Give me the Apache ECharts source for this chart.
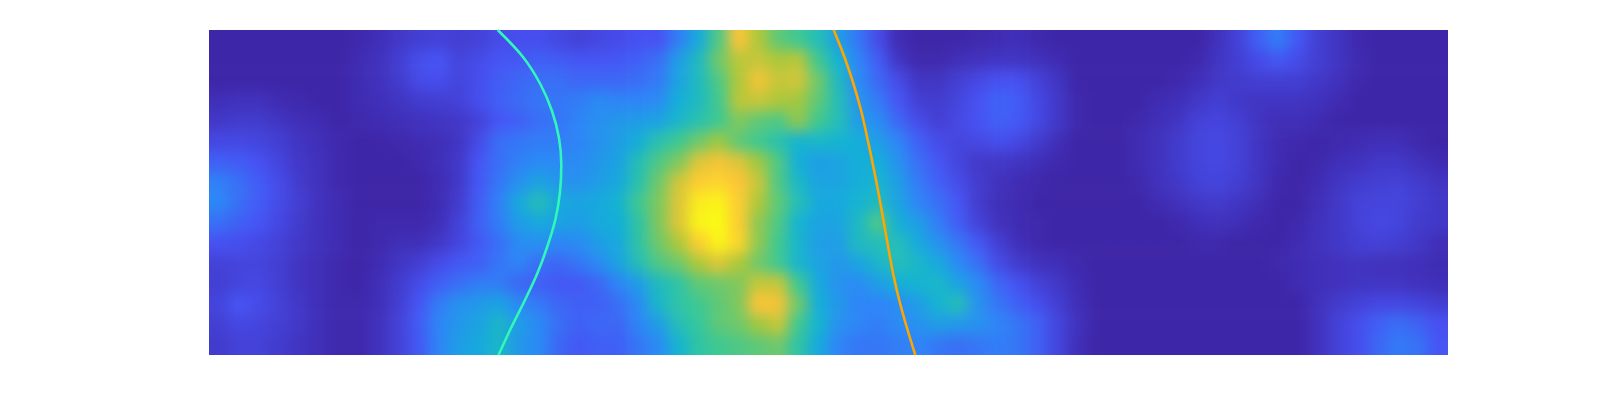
<!DOCTYPE html>
<html><head><meta charset="utf-8">
<style>html,body{margin:0;padding:0;background:#fff}#c{width:1600px;height:400px}</style>
<script src="https://cdn.jsdelivr.net/npm/echarts@6/dist/echarts.min.js"></script>
</head><body><div id="c"></div>
<script>
const row00=[0,0,0,0,0,0,0,1,3,6,8,9,8,9,12,13,13,11,9,11,12,14,14,26,40,60,86,72,62,58,50,36,24,12,2,0,0,0,1,2,3,1,0,0,0,0,0,0,0,0,4,9,18,26,16,8,5,1,0,0,0,0];
const row01=[0,0,0,0,0,0,0,2,4,8,13,15,10,12,15,16,18,17,15,15,16,18,22,36,48,64,74,76,72,74,58,44,28,17,5,1,1,3,4,5,5,4,2,0,0,0,0,0,0,1,5,8,12,16,12,8,5,2,0,0,0,0];
const row02=[0,0,0,0,0,0,0,2,4,7,12,13,10,13,17,20,22,22,20,20,20,22,25,38,48,60,72,84,76,78,64,48,30,20,12,5,5,8,11,14,14,9,5,0,0,0,0,0,1,3,6,7,8,8,8,6,4,1,0,0,0,0];
const row03=[3,4,4,2,1,0,0,2,3,5,7,8,9,13,18,21,24,24,26,30,28,28,30,42,48,58,74,76,72,70,62,50,33,25,15,8,7,10,14,19,17,11,6,1,0,0,0,2,3,6,8,6,5,5,5,4,2,0,0,0,0,0];
const row04=[6,7,7,5,3,2,0,1,2,3,4,5,6,9,15,18,22,24,28,32,34,36,38,46,52,58,66,62,60,68,58,50,36,30,20,12,8,11,14,18,16,11,6,1,0,0,1,3,5,9,10,8,5,3,3,2,0,0,0,0,0,0];
const row05=[11,11,10,8,5,3,1,0,0,1,2,3,5,12,22,24,26,26,28,32,36,42,52,58,64,70,62,58,52,44,46,44,42,36,28,18,12,10,11,13,11,7,3,0,0,0,2,4,7,10,11,9,5,2,1,0,1,2,3,3,1,0];
const row06=[18,17,14,10,6,4,1,0,0,0,1,3,6,15,22,27,30,30,30,34,38,50,60,66,80,84,80,70,60,42,36,38,42,42,32,22,15,10,6,6,5,3,1,0,0,0,2,4,7,10,11,9,5,2,0,1,3,4,6,6,4,2];
const row07=[27,22,17,12,7,4,1,0,0,0,0,2,6,16,24,32,38,34,32,36,40,52,64,78,88,90,86,76,60,46,38,38,42,45,36,25,18,12,7,4,2,1,0,0,0,0,1,4,6,9,10,8,5,1,0,2,5,7,8,9,7,5];
const row08=[29,22,17,12,8,4,2,0,0,0,0,2,7,17,27,40,50,40,38,40,44,58,66,80,96,98,88,72,62,50,40,40,44,48,38,28,22,15,7,3,2,0,0,0,0,0,0,2,4,6,7,5,3,0,0,3,6,9,10,10,8,6];
const row09=[22,18,15,11,7,4,2,0,1,1,1,3,9,18,26,36,40,38,36,40,42,54,66,80,98,100,88,68,60,44,38,38,47,60,42,36,26,17,9,4,2,1,0,0,0,0,0,0,1,3,4,3,1,0,1,4,6,9,11,10,7,6];
const row10=[14,13,11,9,6,4,2,0,1,3,3,6,10,16,22,30,32,28,30,36,40,54,64,72,88,98,90,68,58,45,36,36,48,50,50,40,32,24,16,8,3,1,0,0,0,0,0,0,0,1,1,0,0,0,2,4,6,8,9,8,6,3];
const row11=[9,10,10,8,5,3,1,0,2,5,8,12,16,18,24,28,22,20,24,30,38,50,60,64,72,80,72,64,58,45,38,34,38,46,50,46,40,30,22,12,7,4,3,1,0,0,0,0,0,0,0,0,0,1,2,3,4,5,4,4,3,2];
const row12=[8,10,11,8,5,3,1,0,3,7,12,18,22,26,26,20,18,16,16,20,28,36,48,54,62,64,66,76,76,58,40,32,30,36,42,44,46,38,30,20,14,9,6,2,0,0,0,0,0,0,0,0,0,0,2,3,4,5,5,5,4,3];
const row13=[10,15,12,9,6,3,1,1,3,8,15,26,32,35,38,30,25,20,18,18,22,30,46,54,58,62,66,86,84,64,42,34,28,28,30,36,44,50,32,24,18,13,8,3,0,0,0,0,0,0,0,0,0,0,0,4,7,9,11,11,10,8];
const row14=[8,11,10,8,6,3,1,1,4,9,17,28,34,38,46,36,30,22,18,20,20,28,36,50,56,62,64,70,76,58,44,32,28,26,30,32,36,34,32,28,24,18,10,4,0,0,0,0,0,0,0,0,0,0,0,4,9,13,18,22,19,14];
const row15=[7,9,9,7,5,3,1,1,4,9,16,28,36,40,46,34,30,20,16,18,18,24,30,44,54,58,60,62,64,54,40,28,24,24,26,28,24,22,24,26,24,18,10,3,0,0,0,0,0,0,0,0,0,0,0,4,9,13,20,25,23,15];
const rows=[row00,row01,row02,row03,row04,row05,row06,row07,row08,row09,row10,row11,row12,row13,row14,row15];

const cyanY=[0,27,54,81,108,135,162,189,216,243,270,297,325];
const cyanX=[288.7,314,331.3,343,350,352.3,351,346.5,338.5,328.5,316,302.5,289.5];
const orangeY=[0,27,54,81,108,135,162,189,216,243,270,297,325];
const orangeX=[624.7,635.4,644.5,652.2,658.3,664,669.3,674.2,679,684,690.2,697.7,706.3];
const parula=['#3e26a8','#4752f4','#2d87f7','#12b1d6','#37c897','#abc739','#fec338','#f9fb14'];

// The picture's edge cells are repeated one step outward so the smoothing layer has no empty border.
const nR=rows.length,nC=rows[0].length,cells=[];
for(let r=-1;r<=nR;r++)for(let c=-1;c<=nC;c++){
  const rr=Math.min(nR-1,Math.max(0,r)),cc=Math.min(nC-1,Math.max(0,c));
  cells.push([c+1,r+1,rows[rr][cc]]);
}
const xc=Array.from({length:nC+2},(_,i)=>i),yc=Array.from({length:nR+2},(_,i)=>i);
const chart=echarts.init(document.getElementById('c'),null,{renderer:'canvas'});
const L=209,T=30,W=1239,H=325,cw=W/nC,ch=H/nR;
chart.setOption({
  animation:false,
  grid:[
    {left:L-cw,top:T-ch,width:W+2*cw,height:H+2*ch,show:false},
    {left:L,top:T,width:W,height:H,show:false}
  ],
  xAxis:[
    {gridIndex:0,type:'category',data:xc,show:false},
    {gridIndex:1,type:'value',min:0,max:W,show:false}
  ],
  yAxis:[
    {gridIndex:0,type:'category',data:yc,inverse:true,show:false},
    {gridIndex:1,type:'value',min:0,max:H,inverse:true,show:false}
  ],
  visualMap:{show:false,type:'continuous',min:0,max:100,dimension:2,seriesIndex:0,inRange:{color:parula}},
  series:[
    {type:'heatmap',xAxisIndex:0,yAxisIndex:0,data:cells,zlevel:0,progressive:0,silent:true,itemStyle:{borderWidth:0}},
    {type:'line',xAxisIndex:1,yAxisIndex:1,zlevel:1,smooth:0.35,symbol:'none',silent:true,data:cyanX.map((x,i)=>[x,cyanY[i]]),lineStyle:{color:'#30f8b8',width:2.6}},
    {type:'line',xAxisIndex:1,yAxisIndex:1,zlevel:1,smooth:0.35,symbol:'none',silent:true,data:orangeX.map((x,i)=>[x,orangeY[i]]),lineStyle:{color:'#ffa500',width:2.6}}
  ]
});
function soften(){
  const cv=document.querySelector('#c canvas');
  if(cv){cv.style.filter='blur(7px)';cv.style.clipPath=`inset(${T}px ${1600-L-W}px ${400-T-H}px ${L}px)`;}
}
soften();
chart.on('finished',soften);
</script></body></html>
